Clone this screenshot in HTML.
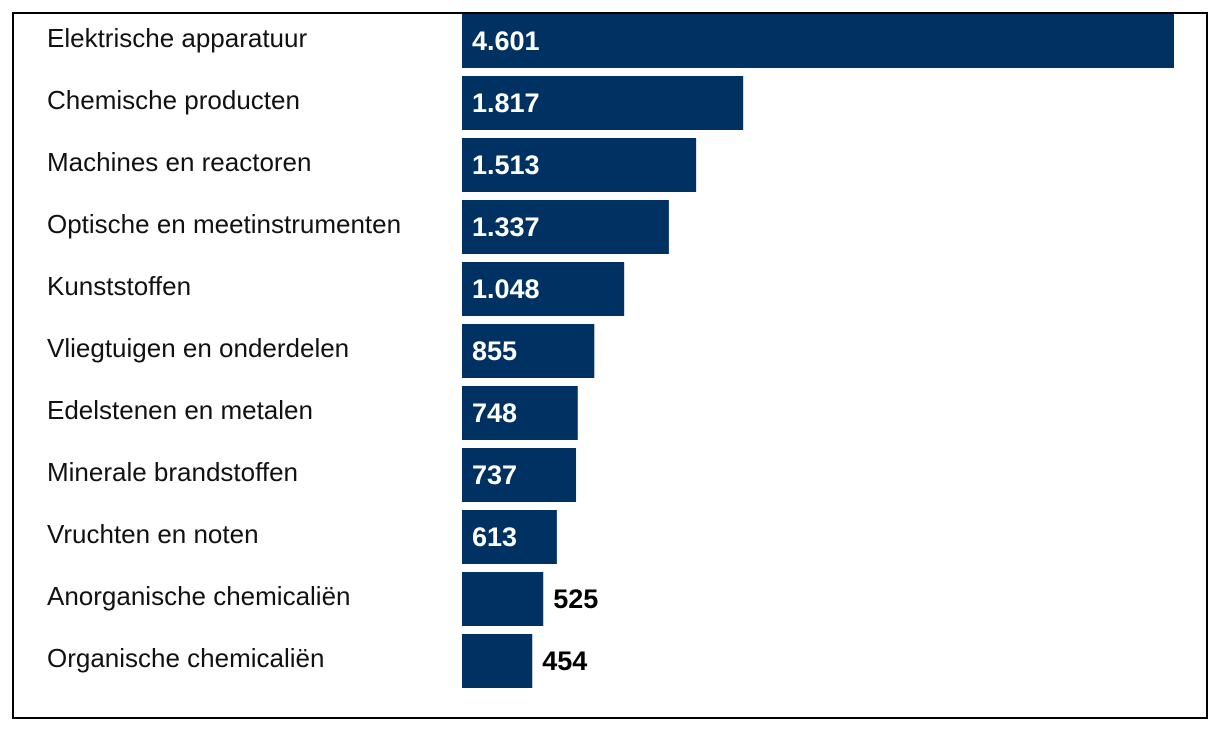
<!DOCTYPE html>
<html><head><meta charset="utf-8"><style>
body{margin:0;background:#fff;width:1220px;height:732px;overflow:hidden;font-family:"Liberation Sans",sans-serif}
</style></head><body>
<svg id="chart" width="1220" height="732" xmlns="http://www.w3.org/2000/svg">
<rect x="13" y="13" width="1194" height="705" fill="none" stroke="#000" stroke-width="2"/>
<g id="bars"></g>
</svg>
<script>
const categories=["Elektrische apparatuur","Chemische producten","Machines en reactoren","Optische en meetinstrumenten","Kunststoffen","Vliegtuigen en onderdelen","Edelstenen en metalen","Minerale brandstoffen","Vruchten en noten","Anorganische chemicaliën","Organische chemicaliën"];
const values=[4601,1817,1513,1337,1048,855,748,737,613,525,454];
const valueLabels=["4.601","1.817","1.513","1.337","1.048","855","748","737","613","525","454"];
const NS="http://www.w3.org/2000/svg";
const g=document.getElementById('bars');
const x0=462, maxW=712, maxV=Math.max(...values);
function xs(v){return v/maxV*maxW;}
function yb(i){return 14+i*62;}
const bh=54;
categories.forEach((c,i)=>{
  const y=yb(i), w=xs(values[i]);
  const t=document.createElementNS(NS,'text');
  
  
  t.setAttribute('x',47);t.setAttribute('y',y+33);
  t.setAttribute('font-size','26');t.setAttribute('fill','#111');
  t.textContent=c;g.appendChild(t);
  const r=document.createElementNS(NS,'rect');
  
  
  r.setAttribute('x',x0);r.setAttribute('y',y);r.setAttribute('width',w);r.setAttribute('height',bh);
  r.setAttribute('fill','#003163');g.appendChild(r);
  const v=document.createElementNS(NS,'text');
  
  
  v.setAttribute('font-size','27');v.setAttribute('font-weight','bold');
  v.setAttribute('y',y+36);
  const inside=w>90;
  v.setAttribute('x',inside?x0+10:x0+w+10);
  v.setAttribute('fill',inside?'#fff':'#000');
  v.textContent=valueLabels[i];g.appendChild(v);
});
</script>
</body></html>
